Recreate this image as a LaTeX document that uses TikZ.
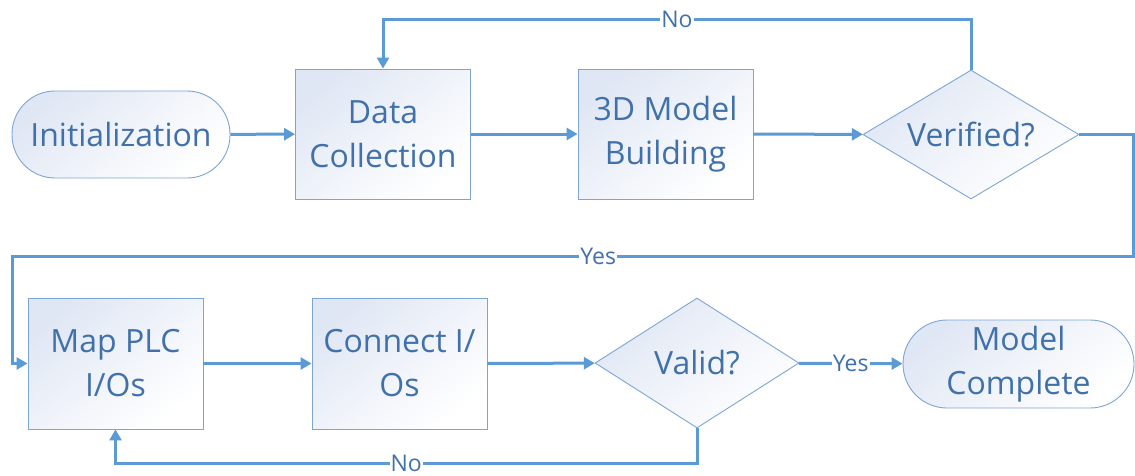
\documentclass[tikz,border=0pt]{standalone}
\usepackage{fontspec}
\setmainfont{Open Sans}
\usetikzlibrary{shapes.geometric,arrows.meta}
\definecolor{flow}{RGB}{91,155,213}
\definecolor{ink}{RGB}{65,113,170}
\definecolor{rim}{RGB}{125,165,212}
\definecolor{tint}{RGB}{224,231,244}

\begin{document}
\begin{tikzpicture}[x=1pt,y=-1pt,
  base/.style={draw=rim, line width=0.9pt, text=ink, align=center, inner sep=0pt,
    font=\fontsize{32}{44}\selectfont,
    top color=tint, bottom color=white, shading angle=40},
  process/.style={base, rectangle, minimum width=175pt, minimum height=130pt},
  terminal/.style={base, rectangle, rounded corners=43pt, minimum height=87pt},
  decision/.style={base, diamond, aspect=1.65},
  flowline/.style={draw=flow, line width=3pt},
  arrow/.style={flowline, -{Triangle[length=11pt,width=12pt]}},
  lbl/.style={fill=white, text=ink, inner sep=1pt, font=\fontsize{23}{26}\selectfont}
]
\useasboundingbox (0,0) rectangle (1135,475);

% top row
\node[terminal, minimum width=218pt] (init) at (121,134.5) {Initialization};
\node[process] (dc) at (383,134) {Data\\Collection};
\node[process] (mb) at (665.5,134) {3D Model\\Building};
\node[decision, minimum width=216pt, minimum height=129pt] (ver) at (971,134.5) {Verified?};

% bottom row
\node[process, minimum height=131pt] (map) at (115.5,363.5) {Map PLC\\I/Os};
\node[process, minimum height=131pt] (con) at (399.5,363.5) {Connect I/\\Os};
\node[decision, minimum width=204pt, minimum height=130pt] (val) at (697,363) {Valid?};
\node[terminal, minimum width=231pt, minimum height=88pt, rounded corners=44pt] (mc) at (1018.5,364) {Model\\Complete};

% routing points
\coordinate (topy) at (0,19);
\coordinate (re) at (1133,256);
\coordinate (le) at (12,256);
\coordinate (boty) at (0,463);

% forward flow
\draw[arrow] (init) -- (dc);
\draw[arrow] (dc) -- (mb);
\draw[arrow] (mb) -- (ver);
\draw[arrow] (map) -- (con);
\draw[arrow] (con) -- (val);
\draw[arrow] (val) -- node[lbl] {Yes} (mc);

% verification loop back
\draw[arrow] (ver.north) -- (ver.north |- topy) -- node[lbl] {No} (dc.north |- topy) -- (dc.north);

% verified: down to the second row
\draw[arrow] (ver.east) -- (ver.east -| re) -- (re) -- node[lbl, pos=0.477] {Yes} (le) -- (le |- map.west) -- (map.west);

% validation loop back
\draw[arrow] (val.south) -- (val.south |- boty) -- node[lbl] {No} (map.south |- boty) -- (map.south);
\end{tikzpicture}
\end{document}
